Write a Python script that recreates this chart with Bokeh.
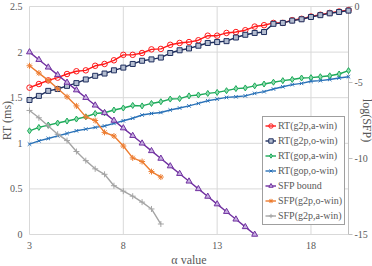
import math
from bokeh.plotting import figure
from bokeh.models import Range1d, Legend, LegendItem
from bokeh.core.properties import value
from bokeh.embed import file_html
from bokeh.resources import INLINE

# alpha values (x axis)
alpha = [3, 3.5, 4, 4.5, 5, 5.5, 6, 6.5, 7, 7.5, 8, 8.5, 9, 9.5, 10, 10.5,
         11, 11.5, 12, 12.5, 13, 13.5, 14, 14.5, 15, 15.5, 16, 16.5, 17,
         17.5, 18, 18.5, 19, 19.5, 20]

# response times (ms), left axis
rt_g2p_awin = [1.61, 1.65, 1.69, 1.72, 1.76, 1.79, 1.80, 1.85, 1.87, 1.91,
               1.97, 1.97, 1.99, 2.03, 2.035, 2.08, 2.10, 2.11, 2.13, 2.18,
               2.18, 2.21, 2.22, 2.24, 2.28, 2.295, 2.32, 2.32, 2.35, 2.365,
               2.39, 2.41, 2.43, 2.445, 2.46]
rt_g2p_owin = [1.475, 1.52, 1.575, 1.595, 1.63, 1.66, 1.70, 1.74, 1.765, 1.80,
               1.83, 1.87, 1.905, 1.92, 1.94, 1.99, 2.02, 2.04, 2.07, 2.10,
               2.11, 2.12, 2.16, 2.19, 2.21, 2.22, 2.31, 2.32, 2.345, 2.36,
               2.385, 2.405, 2.425, 2.44, 2.455]
rt_gop_awin = [1.137, 1.174, 1.20, 1.222, 1.244, 1.266, 1.29, 1.327, 1.335,
               1.365, 1.387, 1.415, 1.41, 1.437, 1.456, 1.485, 1.49, 1.52,
               1.53, 1.547, 1.558, 1.577, 1.60, 1.607, 1.63, 1.65, 1.67,
               1.687, 1.70, 1.716, 1.72, 1.73, 1.74, 1.76, 1.797]
rt_gop_owin = [0.991, 1.027, 1.053, 1.082, 1.108, 1.137, 1.156, 1.174, 1.19,
               1.218, 1.247, 1.275, 1.31, 1.327, 1.338, 1.365, 1.387, 1.41,
               1.437, 1.467, 1.485, 1.503, 1.51, 1.52, 1.547, 1.566, 1.595,
               1.62, 1.643, 1.657, 1.68, 1.687, 1.70, 1.716, 1.73]

# log(SFP), right axis
alpha_bound = [3, 3.5, 4, 4.5, 5, 5.5, 6, 6.5, 7, 7.5, 8, 8.5, 9, 9.5, 10,
               10.5, 11, 11.5, 12, 12.5, 13, 13.5, 14, 14.5, 15]
sfp_bound = [-3, -3.5, -4, -4.5, -5, -5.5, -6, -6.5, -7, -7.5, -8, -8.5, -9,
             -9.5, -10, -10.5, -11, -11.5, -12, -12.5, -13, -13.5, -14,
             -14.5, -15]
alpha_sfp = [3, 3.5, 4, 4.5, 5, 5.5, 6, 6.5, 7, 7.5, 8, 8.5, 9, 9.5, 10]
sfp_g2p_owin = [-3.9, -4.38, -4.86, -5.4, -5.94, -6.54, -7.26, -7.5, -8.28,
                -8.52, -9.18, -9.96, -10.2, -10.86, -11.22]
sfp_g2p_awin = [-6.84, -7.32, -7.86, -8.4, -8.82, -9.54, -10.14, -10.68,
                -11.04, -11.79, -12.15, -12.48, -12.87, -13.32, -14.31]

x_ticks = [3, 8, 13, 18]
y_ticks = [0, 0.5, 1, 1.5, 2, 2.5]
y_tick_labels = ["0", "0.5", "1", "1.5", "2", "2.5"]
log_ticks = [-15, -10, -5, 0]
log_tick_labels = ["-15", "-10", "-5", "0"]

X_MIN, X_MAX = 3, 20
Y_MIN, Y_MAX = 0, 2.5
L_MIN, L_MAX = -15, 0

FONT = "Liberation Serif"
TXT = "#595959"
GRID = "#D9D9D9"
AXIS = "#BFBFBF"

# canvas and plot-area geometry in pixels
W, H = 372, 266
PL, PR, PT, PB = 29, 348, 6, 234

kx = (PR - PL) / (X_MAX - X_MIN)
ky = (PB - PT) / (Y_MAX - Y_MIN)
kl = (PB - PT) / (L_MAX - L_MIN)

x_range = Range1d(X_MIN - PL / kx, X_MAX + (W - PR) / kx)
y_range = Range1d(Y_MIN - (H - PB) / ky, Y_MAX + PT / ky)
log_range = Range1d(L_MIN - (H - PB) / kl, L_MAX + PT / kl)

p = figure(width=W, height=H, output_backend="svg", toolbar_location=None,
           x_range=x_range, y_range=y_range,
           x_axis_location=None, y_axis_location=None,
           min_border=0, min_border_left=0, min_border_right=0,
           min_border_top=0, min_border_bottom=0)
p.extra_y_ranges = {"log": log_range}
p.outline_line_color = None
p.background_fill_color = "white"
p.grid.visible = False

# grid lines
p.segment(x0=x_ticks, y0=[Y_MIN] * len(x_ticks), x1=x_ticks,
          y1=[Y_MAX] * len(x_ticks), line_color=GRID, line_width=1)
p.segment(x0=[X_MIN] * len(y_ticks), y0=y_ticks, x1=[X_MAX] * len(y_ticks),
          y1=y_ticks, line_color=GRID, line_width=1)

# secondary (log) axis line with outward ticks
p.segment(x0=[X_MAX], y0=[L_MIN], x1=[X_MAX], y1=[L_MAX], line_color=AXIS,
          line_width=1, y_range_name="log")
p.segment(x0=[X_MAX] * len(log_ticks), y0=log_ticks,
          x1=[X_MAX + 4 / kx] * len(log_ticks), y1=log_ticks,
          line_color=AXIS, line_width=1, y_range_name="log")

tick_kw = dict(text_font=value(FONT), text_font_size=value("10px"),
               text_color=TXT, text_baseline="middle")
p.text(x=x_ticks, y=[Y_MIN - 11 / ky] * len(x_ticks),
       text=[str(t) for t in x_ticks], text_align="center", **tick_kw)
p.text(x=[X_MIN - 7 / kx] * len(y_ticks), y=y_ticks, text=y_tick_labels,
       text_align="right", **tick_kw)
p.text(x=[X_MAX + 6 / kx] * len(log_ticks), y=log_ticks,
       text=log_tick_labels, text_align="left", y_range_name="log", **tick_kw)

# axis titles
title_kw = dict(text_font=value(FONT), text_font_size=value("12px"),
                text_color=TXT, text_align="center", text_baseline="middle")
p.text(x=[(X_MIN + X_MAX) / 2], y=[Y_MIN - 25 / ky], text=["α value"],
       **title_kw)
p.text(x=[X_MIN - 23 / kx], y=[(Y_MIN + Y_MAX) / 2], text=["RT (ms)"],
       angle=math.pi / 2, **title_kw)
p.text(x=[X_MAX + 18 / kx], y=[(L_MIN + L_MAX) / 2], text=["log(SFP)"],
       angle=-math.pi / 2, y_range_name="log", **title_kw)

items = []

def series(xs, ys, label, color, marker, fill, size=5, rng="default"):
    kw = {} if rng == "default" else {"y_range_name": rng}
    ln = p.line(xs, ys, line_color=color, line_width=1.4, **kw)
    sc = p.scatter(xs, ys, marker=marker, size=size, line_color=color,
                   line_width=1, fill_color=fill,
                   fill_alpha=0 if fill is None else 1, **kw)
    items.append(LegendItem(label=label, renderers=[ln, sc]))

series(alpha, rt_g2p_awin, "RT(g2p,a-win)", "#FF1A1A", "circle", None, 5.5)
series(alpha, rt_g2p_owin, "RT(g2p,o-win)", "#1F2F5E", "square", "#B4BDD0", 5)
series(alpha, rt_gop_awin, "RT(gop,a-win)", "#1DAA5A", "diamond", "#8FDCAE", 6)
series(alpha, rt_gop_owin, "RT(gop,o-win)", "#2A72B8", "x", None, 5)
series(alpha_bound, sfp_bound, "SFP bound", "#7030A0", "triangle", "#C6AEE0",
       6, "log")
series(alpha_sfp, sfp_g2p_owin, "SFP(g2p,o-win)", "#ED7D31", "asterisk", None,
       6, "log")
series(alpha_sfp, sfp_g2p_awin, "SFP(g2p,a-win)", "#A5A5A5", "cross", None,
       6, "log")

legend = Legend(items=items, location=(262, H - 225))
legend.label_text_font = FONT
legend.label_text_font_size = "10px"
legend.label_text_color = TXT
legend.border_line_color = "#404040"
legend.border_line_width = 1
legend.background_fill_alpha = 1
legend.glyph_width = 11
legend.glyph_height = 13
legend.label_height = 13
legend.label_standoff = 2
legend.spacing = 2
legend.padding = 2
legend.margin = 0
p.add_layout(legend)

open("out.html", "w").write(file_html(p, INLINE))
